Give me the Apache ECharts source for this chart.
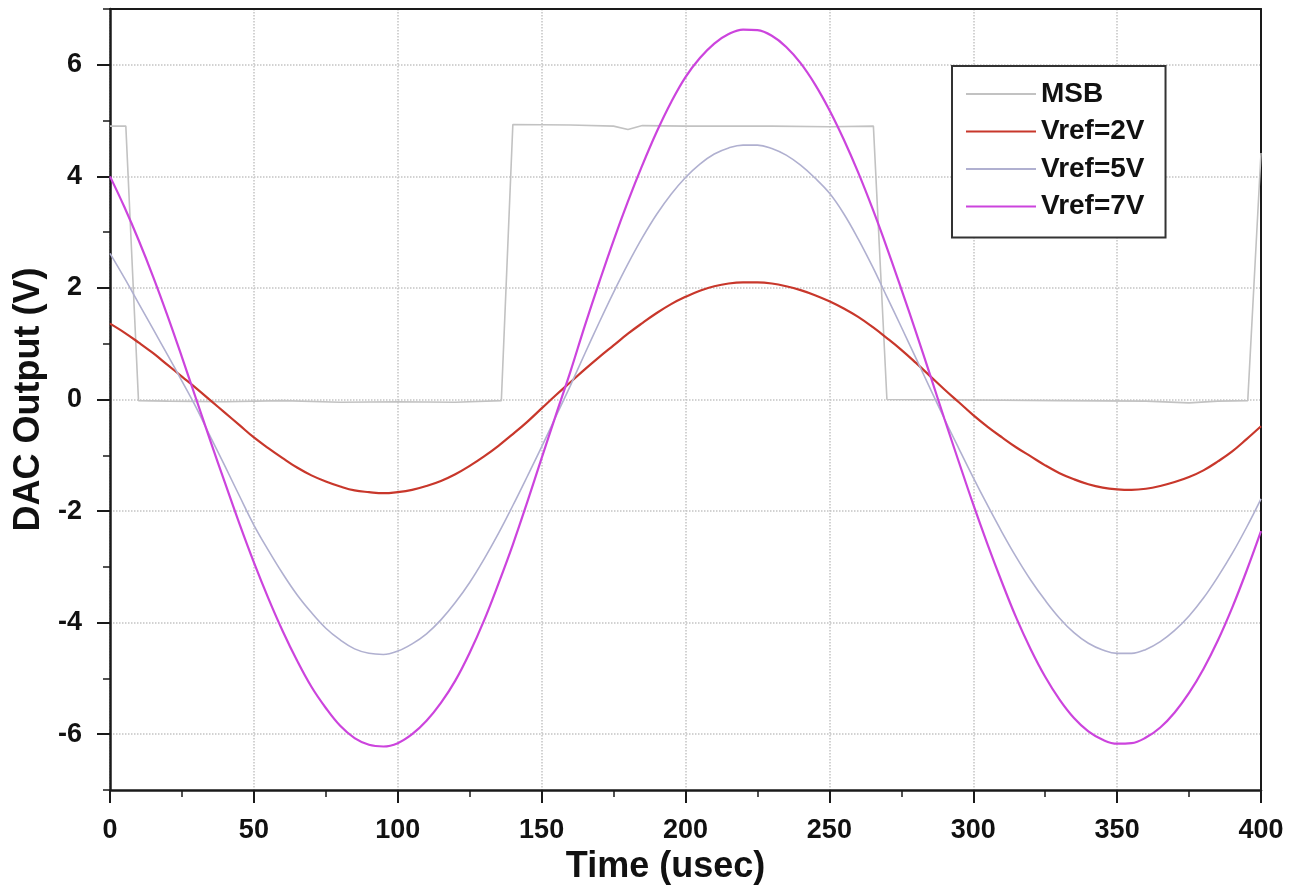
<!DOCTYPE html>
<html>
<head>
<meta charset="utf-8">
<script src="https://cdn.jsdelivr.net/npm/echarts@6/dist/echarts.min.js"></script>
<style>
html,body{margin:0;padding:0;background:#fff;}
#chart{width:1297px;height:890px;}
</style>
</head>
<body>
<div id="chart"></div>
<script>
// ---- data ----
const seriesNames = ['MSB', 'Vref=2V', 'Vref=5V', 'Vref=7V'];
const timeUs = [0,5,10,15,20,25,30,35,40,45,50,55,60,65,70,75,80,85,90,95,
                100,105,110,115,120,125,130,135,140,145,150,155,160,165,170,175,180,185,190,195,
                200,205,210,215,220,225,230,235,240,245,250,255,260,265,270,275,280,285,290,295,
                300,305,310,315,320,325,330,335,340,345,350,355,360,365,370,375,380,385,390,395,400];
const vref2 = [1.36,1.20,1.02,0.83,0.62,0.41,0.20,-0.02,-0.24,-0.46,-0.68,-0.87,-1.05,-1.22,-1.36,-1.47,-1.56,-1.63,-1.66,-1.68,
               -1.66,-1.62,-1.55,-1.46,-1.34,-1.19,-1.02,-0.83,-0.62,-0.40,-0.16,0.08,0.31,0.54,0.76,0.97,1.18,1.37,1.55,1.71,
               1.84,1.95,2.03,2.08,2.10,2.10,2.08,2.03,1.96,1.87,1.76,1.63,1.48,1.30,1.10,0.89,0.66,0.42,0.18,-0.05,
               -0.28,-0.49,-0.68,-0.86,-1.02,-1.18,-1.32,-1.43,-1.52,-1.58,-1.61,-1.62,-1.60,-1.55,-1.48,-1.39,-1.27,-1.11,-0.93,-0.71,-0.48];
const vref5 = [2.62,2.18,1.72,1.26,0.80,0.33,-0.15,-0.68,-1.20,-1.73,-2.25,-2.70,-3.12,-3.50,-3.82,-4.10,-4.31,-4.47,-4.55,-4.57,
               -4.51,-4.38,-4.20,-3.95,-3.64,-3.28,-2.86,-2.40,-1.90,-1.38,-0.85,-0.30,0.25,0.82,1.38,1.92,2.43,2.90,3.32,3.68,
               3.98,4.22,4.40,4.51,4.56,4.56,4.50,4.38,4.20,3.97,3.70,3.33,2.88,2.38,1.84,1.30,0.75,0.20,-0.35,-0.88,
               -1.40,-1.90,-2.38,-2.83,-3.24,-3.60,-3.92,-4.18,-4.37,-4.49,-4.55,-4.55,-4.48,-4.34,-4.14,-3.88,-3.56,-3.18,-2.76,-2.29,-1.78];
const vref7 = [4.00,3.45,2.85,2.20,1.50,0.76,0.00,-0.76,-1.50,-2.23,-2.92,-3.56,-4.15,-4.68,-5.15,-5.53,-5.85,-6.07,-6.19,-6.22,
               -6.16,-6.00,-5.76,-5.44,-5.04,-4.54,-3.96,-3.30,-2.60,-1.84,-1.05,-0.27,0.50,1.32,2.10,2.85,3.55,4.20,4.80,5.33,
               5.78,6.12,6.38,6.55,6.63,6.62,6.52,6.32,6.03,5.65,5.19,4.66,4.07,3.42,2.72,1.98,1.22,0.44,-0.35,-1.12,
               -1.88,-2.60,-3.28,-3.92,-4.48,-4.97,-5.38,-5.71,-5.95,-6.10,-6.17,-6.16,-6.06,-5.88,-5.61,-5.26,-4.83,-4.32,-3.73,-3.07,-2.36];
const msbTime  = [0,5.5,9.9,20,40,60,80,100,120,136,140,160,175,180,185,200,230,250,265.3,270,
                  300,330,360,375,385,395.4,400];
const msbValue = [4.90,4.90,-0.02,-0.03,-0.04,-0.02,-0.05,-0.04,-0.05,-0.02,4.93,4.92,4.90,4.84,4.91,4.90,4.90,4.89,4.90,0.0,
                  -0.01,-0.02,-0.03,-0.06,-0.03,-0.02,4.42];
const xTicks = [0,50,100,150,200,250,300,350,400];
const yMajor = [-6,-4,-2,0,2,4,6];
const yMinor = [-7,-5,-3,-1,1,3,5,7];

function pairs(xs, ys){ return xs.map((x,i)=>[x, ys[i]]); }

const FONT = 'Liberation Sans, Arial, sans-serif';
const AX = '#1a1a1a';
const GRIDC = '#c4c4c4';

const chart = echarts.init(document.getElementById('chart'), null, {renderer:'canvas'});
chart.setOption({
  animation: false,
  backgroundColor: '#fff',
  grid: {left:110, right:36, top:9, bottom:100, show:false},
  legend: {
    orient:'vertical', left:952, top:66,
    data: seriesNames,
    icon:'rect', itemWidth:70, itemHeight:2, itemGap:9.5,
    padding:[14,21,17,14],
    backgroundColor:'#fff', borderColor:'#333', borderWidth:2,
    textStyle:{fontFamily:FONT, fontWeight:'bold', fontSize:28, color:'#111'}
  },
  xAxis: [{
    type:'value', min:0, max:400, interval:50, position:'bottom',
    name:'Time (usec)', nameLocation:'middle', nameGap:52,
    nameTextStyle:{fontFamily:FONT, fontWeight:'bold', fontSize:36, color:'#111', padding:[0,40,0,0]},
    axisLine:{show:true, onZero:false, lineStyle:{color:AX, width:2.5}},
    axisTick:{show:true, length:13, lineStyle:{color:AX, width:2}},
    minorTick:{show:true, splitNumber:2, length:7, lineStyle:{color:AX, width:1.5}},
    splitLine:{show:true, lineStyle:{type:'dotted', color:GRIDC, width:1.5}},
    axisLabel:{margin:27, fontFamily:FONT, fontWeight:'bold', fontSize:27, color:'#111', customValues:xTicks}
  },{
    type:'value', min:0, max:400, position:'top',
    axisLine:{show:true, onZero:false, lineStyle:{color:AX, width:2}},
    axisTick:{show:false}, axisLabel:{show:false}, splitLine:{show:false}
  }],
  yAxis: [{
    type:'value', min:-7, max:7, interval:1, position:'left',
    name:'DAC Output (V)', nameLocation:'middle', nameGap:63,
    nameTextStyle:{fontFamily:FONT, fontWeight:'bold', fontSize:36, color:'#111'},
    axisLine:{show:true, onZero:false, lineStyle:{color:AX, width:2.5}},
    axisTick:{show:true, length:13, customValues:yMajor, lineStyle:{color:AX, width:2}},
    splitLine:{show:true, lineStyle:{type:'dotted', color:GRIDC, width:1.5}},
    axisLabel:{margin:28, customValues:yMajor, fontFamily:FONT, fontWeight:'bold', fontSize:27, color:'#111'}
  },{
    type:'value', min:-7, max:7, interval:1, position:'left',
    axisLine:{show:false},
    axisTick:{show:true, length:7, customValues:yMinor, lineStyle:{color:AX, width:1.5}},
    axisLabel:{show:false},
    splitLine:{show:false}
  },{
    type:'value', min:-7, max:7, position:'right',
    axisLine:{show:true, onZero:false, lineStyle:{color:AX, width:2}},
    axisTick:{show:false}, axisLabel:{show:false}, splitLine:{show:false}
  }],
  series: [
    {name:'MSB', type:'line', data:pairs(msbTime, msbValue), symbol:'none', showSymbol:false,
     lineStyle:{color:'#c2c2c2', width:1.6}, itemStyle:{color:'#c2c2c2'}, z:2},
    {name:'Vref=2V', type:'line', data:pairs(timeUs, vref2), symbol:'none', showSymbol:false, smooth:0.4,
     lineStyle:{color:'#c8372b', width:2.2}, itemStyle:{color:'#c8372b'}, z:3},
    {name:'Vref=5V', type:'line', data:pairs(timeUs, vref5), symbol:'none', showSymbol:false, smooth:0.4,
     lineStyle:{color:'#b0b0d0', width:1.6}, itemStyle:{color:'#b0b0d0'}, z:4},
    {name:'Vref=7V', type:'line', data:pairs(timeUs, vref7), symbol:'none', showSymbol:false, smooth:0.4,
     lineStyle:{color:'#cc44dd', width:2.2}, itemStyle:{color:'#cc44dd'}, z:5}
  ]
});
</script>
</body>
</html>
